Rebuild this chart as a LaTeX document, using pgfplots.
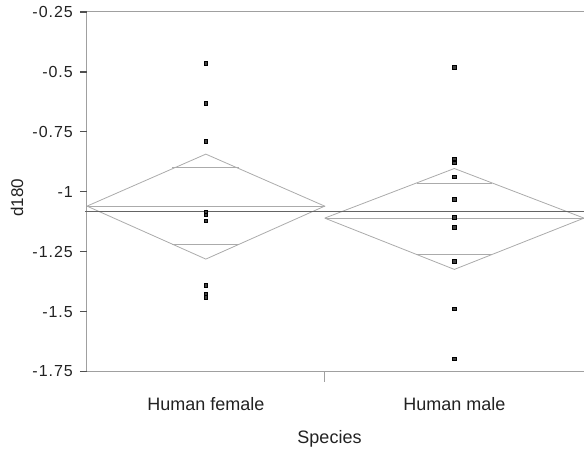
\documentclass[border=0pt]{standalone}
\usepackage{fontspec}
\setmainfont{Liberation Sans}
\newfontfamily\tickfont[LetterSpace=6]{Liberation Sans}
\usepackage{pgfplots}
\pgfplotsset{compat=1.18}
\definecolor{framegray}{HTML}{A0A0A0}
\definecolor{tickgray}{HTML}{505050}
\definecolor{diagray}{HTML}{ABABAB}
\definecolor{meangray}{HTML}{646464}
\definecolor{ptgray}{HTML}{404040}
\definecolor{txt}{HTML}{222222}
\begin{document}
\begin{tikzpicture}
\begin{axis}[
  scale only axis,
  width=497bp, height=359.5bp,
  xmin=0, xmax=23,
  ymin=-1.75, ymax=-0.25,
  clip=false,
  axis x line=box,
  axis y line=left,
  axis line style={-, framegray, line width=1bp},
  every tick/.style={tickgray, line width=1.3bp},
  tick align=outside,
  major tick length=7bp,
  xtick=\empty,
  extra x ticks={5.5,17},
  extra x tick labels={Human female, Human male},
  extra x tick style={major tick length=0pt},
  xticklabel style={font=\fontsize{18bp}{20bp}\selectfont, text=txt, anchor=base, yshift=-38.5bp, inner sep=0pt},
  ytick={-1.75,-1.5,-1.25,-1,-0.75,-0.5,-0.25},
  yticklabels={-1.75,-1.5,-1.25,-1,-0.75,-0.5,-0.25},
  yticklabel style={font=\tickfont\fontsize{16bp}{18bp}\selectfont, text=txt, anchor=east, inner sep=0pt, xshift=-7bp},
  xlabel={Species},
  xlabel style={font=\fontsize{18bp}{20bp}\selectfont, text=txt, at={(axis description cs:0.5,0)}, anchor=base, yshift=-71.5bp, xshift=-6bp, inner sep=0pt},
  ylabel={d180},
  ylabel style={font=\fontsize{17bp}{19bp}\selectfont, text=txt, at={(axis description cs:0,0.5)}, anchor=center, yshift=70bp, xshift=-6bp, inner sep=0pt},
]
% y tick marks (outside, left)
\pgfplotsinvokeforeach{-1.75,-1.5,-1.25,-1,-0.75,-0.5,-0.25}{
  \draw[tickgray, line width=1.3bp] (axis cs:0,#1) -- ([xshift=-7bp]axis cs:0,#1);
}
% group separator tick
\draw[framegray, line width=1bp] (axis cs:11,-1.75) -- ([yshift=-10bp]axis cs:11,-1.75);

% Human female means diamond
\addplot[diagray, line width=0.8bp, no marks] coordinates {(0,-1.06) (5.5,-0.843) (11,-1.06) (5.5,-1.281) (0,-1.06)};
\addplot[diagray, line width=0.8bp, no marks] coordinates {(0,-1.06) (11,-1.06)};
\addplot[diagray, line width=0.8bp, no marks] coordinates {(3.95,-0.90) (7.05,-0.90)};
\addplot[diagray, line width=0.8bp, no marks] coordinates {(3.95,-1.219) (7.05,-1.219)};

% Human male means diamond
\addplot[diagray, line width=0.8bp, no marks] coordinates {(11,-1.11) (17,-0.903) (23,-1.11) (17,-1.324) (11,-1.11)};
\addplot[diagray, line width=0.8bp, no marks] coordinates {(11,-1.11) (23,-1.11)};
\addplot[diagray, line width=0.8bp, no marks] coordinates {(15.25,-0.966) (18.75,-0.966)};
\addplot[diagray, line width=0.8bp, no marks] coordinates {(15.25,-1.260) (18.75,-1.260)};

% grand mean
\addplot[meangray, line width=1.1bp, no marks] coordinates {(-0.07,-1.083) (23,-1.083)};

% data points
\addplot[only marks, mark=square*, mark size=1.7bp, mark options={draw=none, fill=ptgray}] coordinates {
 (5.5,-0.463) (5.5,-0.630) (5.5,-0.789) (5.5,-1.086) (5.5,-1.097) (5.5,-1.122)
 (5.5,-1.390) (5.5,-1.426) (5.5,-1.440)
};
\addplot[only marks, mark=square*, mark size=1.7bp, mark options={draw=none, fill=ptgray}] coordinates {
 (17,-0.480) (17,-0.863) (17,-0.880) (17,-0.938) (17,-1.031) (17,-1.107)
 (17,-1.148) (17,-1.289) (17,-1.488) (17,-1.697)
};
\end{axis}
\pgfresetboundingbox
\useasboundingbox ([xshift=-87bp,yshift=-80.5bp]current axis.south west) rectangle ([yshift=12bp]current axis.north east);
\end{tikzpicture}
\end{document}
